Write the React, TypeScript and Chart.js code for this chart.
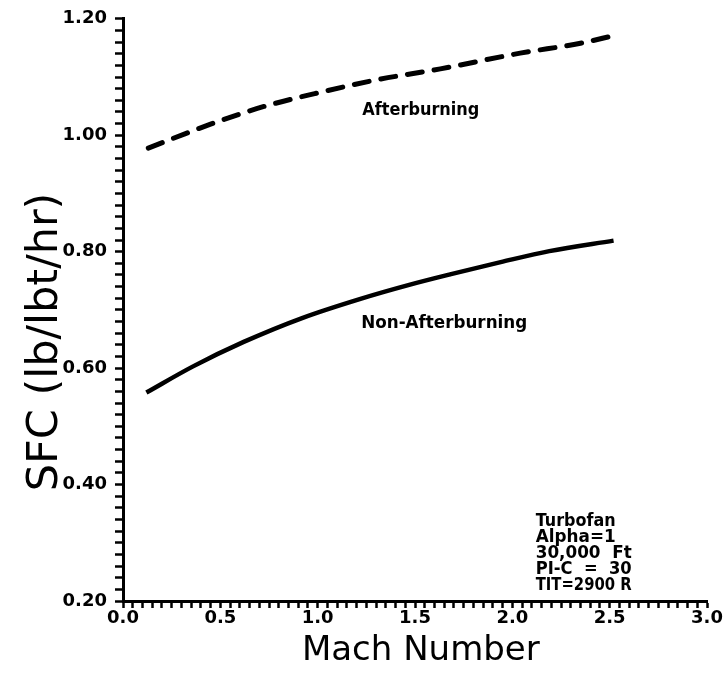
import React, { useEffect, useRef } from 'react';
import { Chart, registerables } from 'chart.js';

Chart.register(...registerables);

// ---- Data ----
const afterburningMach = [0.13, 0.45, 0.72, 1.03, 1.30, 1.63, 2.04, 2.35, 2.52];
const afterburningSfc = [0.978, 1.019, 1.049, 1.075, 1.095, 1.114, 1.141, 1.158, 1.171];

const nonAfterburningMach = [0.12, 0.36, 0.62, 0.92, 1.22, 1.47, 1.68, 1.94, 2.19, 2.52];
const nonAfterburningSfc = [0.558, 0.603, 0.645, 0.686, 0.719, 0.743, 0.761, 0.782, 0.801, 0.819];

const xTickLabels = ['0.0', '0.5', '1.0', '1.5', '2.0', '2.5', '3.0'];
const yTickLabels = ['0.20', '0.40', '0.60', '0.80', '1.00', '1.20'];

const seriesNames = ['Afterburning', 'Non-Afterburning'];
const infoLines = ['Turbofan', 'Alpha=1', '30,000  Ft', 'PI-C  =  30', 'TIT=2900 R'];
const xTitle = 'Mach Number';
const yTitle = 'SFC (lb/lbt/hr)';

const textPlugin = {
  id: 'chartTexts',
  afterDraw(chart: any) {
    const { ctx, chartArea, scales } = chart;
    const xs = scales.x;
    const ys = scales.y;
    ctx.save();
    ctx.fillStyle = '#000';

    // curve labels
    ctx.font = 'bold 17px "DejaVu Sans"';
    ctx.textAlign = 'center';
    ctx.textBaseline = 'middle';
    ctx.fillText(seriesNames[0], xs.getPixelForValue(1.53), ys.getPixelForValue(1.042), 117);
    ctx.fillText(seriesNames[1], xs.getPixelForValue(1.65), ys.getPixelForValue(0.676), 166);

    // info box
    ctx.font = 'bold 17px "DejaVu Sans"';
    ctx.textAlign = 'left';
    const bx = xs.getPixelForValue(2.12);
    const by = ys.getPixelForValue(0.337);
    infoLines.forEach((line, i) => {
      ctx.fillText(line, bx, by + i * 16, line.length > 9 ? 96 : 80);
    });

    // x title
    ctx.font = '34px "DejaVu Sans"';
    ctx.textAlign = 'center';
    ctx.textBaseline = 'alphabetic';
    ctx.fillText(xTitle, xs.getPixelForValue(1.53), chartArea.bottom + 59);

    // y title
    ctx.translate(chartArea.left - 66, ys.getPixelForValue(0.645));
    ctx.rotate(-Math.PI / 2);
    ctx.font = '43px "DejaVu Sans"';
    ctx.textAlign = 'center';
    ctx.textBaseline = 'alphabetic';
    ctx.fillText(yTitle, 0, 0);
    ctx.restore();
  },
};

export default function App() {
  const canvasRef = useRef<HTMLCanvasElement | null>(null);

  useEffect(() => {
    document.body.style.margin = '0';
    const canvas = canvasRef.current;
    if (!canvas) return;

    const chart = new Chart(canvas, {
      type: 'line',
      data: {
        datasets: [
          {
            label: seriesNames[0],
            data: afterburningMach.map((m, i) => ({ x: m, y: afterburningSfc[i] })),
            borderColor: '#000',
            borderWidth: 5,
            borderDash: [15, 12],
            borderCapStyle: 'round',
            pointRadius: 0,
            fill: false,
            cubicInterpolationMode: 'monotone',
          },
          {
            label: seriesNames[1],
            data: nonAfterburningMach.map((m, i) => ({ x: m, y: nonAfterburningSfc[i] })),
            borderColor: '#000',
            borderWidth: 4.5,
            pointRadius: 0,
            fill: false,
            cubicInterpolationMode: 'monotone',
          },
        ],
      },
      options: {
        animation: false,
        responsive: false,
        layout: { padding: { top: 17, right: 20, left: 0, bottom: 0 } },
        plugins: {
          legend: { display: false },
          tooltip: { enabled: false },
          title: { display: false },
        },
        scales: {
          x: {
            type: 'linear',
            min: 0,
            max: 3,
            afterFit: (s: any) => { s.height = 75; },
            border: { color: '#000', width: 3 },
            grid: {
              drawOnChartArea: false,
              drawTicks: true,
              tickLength: 7,
              tickWidth: 2.5,
              tickColor: '#000',
            },
            ticks: {
              stepSize: 0.05,
              autoSkip: false,
              maxRotation: 0,
              minRotation: 0,
              padding: 0,
              color: '#000',
              font: { family: 'DejaVu Sans', size: 18, weight: 'bold' },
              callback: (v: any) => {
                const s = Number(v).toFixed(1);
                return Math.abs(Number(v) * 2 - Math.round(Number(v) * 2)) < 1e-6 && xTickLabels.includes(s) ? s : '';
              },
            },
          },
          y: {
            type: 'linear',
            min: 0.2,
            max: 1.2,
            afterFit: (s: any) => { s.width = 123; },
            border: { color: '#000', width: 3 },
            grid: {
              drawOnChartArea: false,
              drawTicks: true,
              tickLength: 8,
              tickWidth: 2.5,
              tickColor: '#000',
            },
            ticks: {
              stepSize: 0.02,
              autoSkip: false,
              padding: 8,
              color: '#000',
              font: { family: 'DejaVu Sans', size: 18, weight: 'bold' },
              callback: (v: any) => {
                const s = Number(v).toFixed(2);
                return Math.abs(Number(v) * 5 - Math.round(Number(v) * 5)) < 1e-6 && yTickLabels.includes(s) ? s : '';
              },
            },
          },
        },
      },
      plugins: [textPlugin],
    } as any);

    return () => chart.destroy();
  }, []);

  return (
    <canvas
      ref={canvasRef}
      width={727}
      height={676}
      style={{ display: 'block', width: 727, height: 676 }}
    />
  );
}
